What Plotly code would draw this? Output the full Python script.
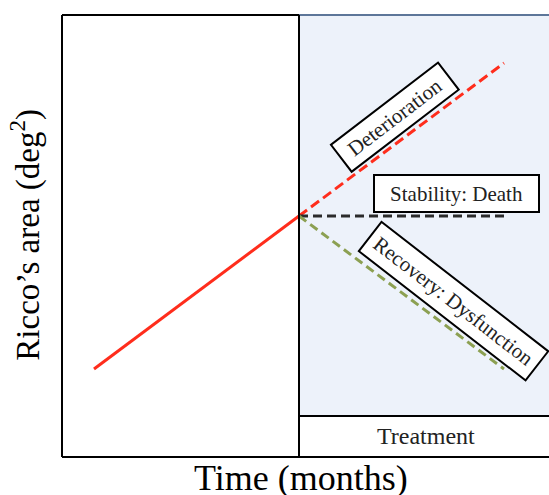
import plotly.graph_objects as go

# Schematic time course of Ricco's area before and after treatment
t_baseline = [1, 11]            # months, pre-treatment period
area_baseline = [0, 5]
t_treat = [11, 21]              # months, post-treatment period
area_deterioration = [5, 10]
area_stability = [5, 5]
area_recovery = [5, 0]
treatment_start = 11

serif = "Liberation Serif, Times New Roman, serif"

fig = go.Figure()

fig.add_trace(go.Scatter(x=t_baseline, y=area_baseline, mode="lines",
                         line=dict(color="#ff2d1c", width=3)))
fig.add_trace(go.Scatter(x=t_treat, y=area_deterioration, mode="lines",
                         line=dict(color="#ff2d1c", width=3, dash="10px,5px")))
fig.add_trace(go.Scatter(x=t_treat, y=area_stability, mode="lines",
                         line=dict(color="#2b2b2b", width=3, dash="9px,5px")))
fig.add_trace(go.Scatter(x=t_treat, y=area_recovery, mode="lines",
                         line=dict(color="#8ca052", width=3, dash="9px,5px")))

treat_top = 0.0928  # top of the "Treatment" strip, paper units

shapes = [
    # shaded treatment period
    dict(type="rect", xref="x", yref="paper", x0=treatment_start, x1=30,
         y0=treat_top, y1=1, fillcolor="#edf2fa", line=dict(width=0), layer="below"),
    # treatment strip
    dict(type="rect", xref="x", yref="paper", x0=treatment_start, x1=30,
         y0=0, y1=treat_top, fillcolor="white", line=dict(color="black", width=2), layer="below"),
    # frame
    dict(type="line", xref="paper", yref="paper", x0=0, x1=0, y0=0, y1=1,
         line=dict(color="black", width=2)),
    dict(type="line", xref="paper", yref="paper", x0=0, x1=1.05, y0=0, y1=0,
         line=dict(color="black", width=2)),
    dict(type="line", xref="x", yref="paper", x0=-1, x1=treatment_start, y0=1, y1=1,
         line=dict(color="black", width=2)),
    dict(type="line", xref="x", yref="paper", x0=treatment_start, x1=30, y0=1, y1=1,
         line=dict(color="#5d7699", width=2)),
    dict(type="line", xref="x", yref="paper", x0=treatment_start, x1=treatment_start,
         y0=0, y1=1, line=dict(color="black", width=2)),
]

box = dict(bordercolor="black", borderwidth=2, bgcolor="white",
           font=dict(family=serif, size=21, color="#222"), showarrow=False,
           xanchor="center", yanchor="middle")

annotations = [
    dict(text="Deterioration", x=15.68, y=8.25, textangle=-37.5, width=131, height=30, **box),
    dict(text="Stability: Death", x=18.66, y=5.735, textangle=0, width=161, height=33, **box),
    dict(text="Recovery: Dysfunction", x=18.56, y=2.21, textangle=37.8, width=207, height=33, **box),
    dict(text="Treatment", xref="paper", yref="paper", x=0.747, y=treat_top / 2,
         xanchor="center", yanchor="middle",
         showarrow=False, font=dict(family=serif, size=24, color="#222")),
    dict(text="Time (months)", xref="paper", yref="paper", x=0.491, y=-0.0475,
         xanchor="center", yanchor="middle", height=34,
         showarrow=False, font=dict(family=serif, size=36, color="black")),
    dict(text="Ricco’s area (deg<sup>2</sup>)", xref="paper", yref="paper", x=-0.074, y=0.503,
         xanchor="center", yanchor="middle",
         textangle=-90, showarrow=False, font=dict(family=serif, size=33, color="black")),
]

fig.update_layout(
    width=549, height=495,
    margin=dict(l=62, r=0, t=15, b=38),
    paper_bgcolor="white", plot_bgcolor="rgba(0,0,0,0)",
    showlegend=False,
    shapes=shapes, annotations=annotations,
    xaxis=dict(range=[-0.561, 23.195], visible=False, fixedrange=True),
    yaxis=dict(range=[-2.876, 11.57], visible=False, fixedrange=True),
)

fig.write_html("out.html")
